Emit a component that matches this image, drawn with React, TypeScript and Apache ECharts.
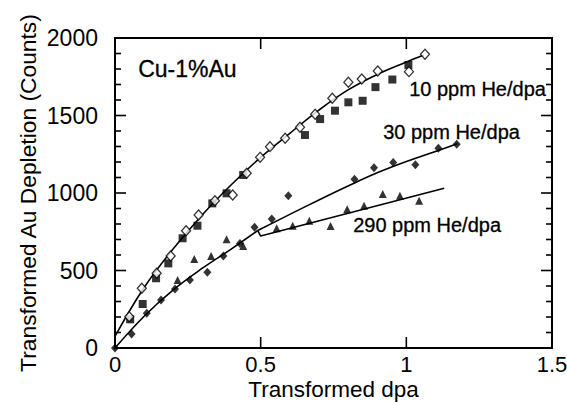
import React, { useEffect, useRef } from "react";
import * as echarts from "echarts";

// ---- data ----
const xTicks = [0, 0.5, 1, 1.5];
const yTicks = [0, 500, 1000, 1500, 2000];
// inner tick positions (major every 0.5 on x; major every 500, minor every 100 on y)
const xTickMarks = [0.5, 1.0];
const yTickMarks = [100, 200, 300, 400, 500, 600, 700, 800, 900, 1000, 1100, 1200, 1300, 1400, 1500, 1600, 1700, 1800, 1900];

// 10 ppm He/dpa, open diamonds
const open10X = [0.049, 0.092, 0.143, 0.191, 0.244, 0.287, 0.343, 0.404, 0.452, 0.498, 0.532, 0.584, 0.635, 0.687, 0.746, 0.801, 0.847, 0.902, 1.009, 1.064];
const open10Y = [202, 385, 482, 594, 757, 858, 950, 987, 1127, 1230, 1299, 1353, 1424, 1508, 1611, 1714, 1735, 1787, 1783, 1895];

// 10 ppm He/dpa, filled squares
const sq10X = [0.052, 0.095, 0.141, 0.183, 0.232, 0.283, 0.334, 0.383, 0.44, 0.652, 0.704, 0.755, 0.801, 0.85, 0.894, 0.952, 1.007];
const sq10Y = [185, 284, 450, 546, 708, 789, 933, 998, 1116, 1374, 1477, 1531, 1585, 1595, 1683, 1732, 1826];

// 30 ppm He/dpa, filled diamonds
const dia30X = [0, 0.057, 0.109, 0.158, 0.206, 0.257, 0.317, 0.372, 0.429, 0.479, 0.538, 0.595, 0.822, 0.889, 0.955, 1.031, 1.11, 1.173];
const dia30Y = [0, 90, 224, 310, 381, 439, 488, 594, 675, 779, 832, 982, 1089, 1163, 1196, 1183, 1288, 1314];

// 290 ppm He/dpa, filled triangles
const tri290X = [0.215, 0.272, 0.33, 0.383, 0.44, 0.555, 0.61, 0.667, 0.74, 0.797, 0.855, 0.919, 0.978, 1.044];
const tri290Y = [439, 574, 594, 701, 658, 772, 789, 821, 787, 895, 918, 994, 983, 950];

// fitted curves
const fit10X = [0, 0.1, 0.2, 0.3, 0.4, 0.5, 0.6, 0.7, 0.8, 0.9, 1.0, 1.06];
const fit10Y = [75, 390, 640, 860, 1055, 1230, 1385, 1535, 1665, 1765, 1845, 1890];
const fitLowX = [0, 0.1, 0.2, 0.3, 0.4, 0.49];
const fitLowY = [0, 205, 375, 515, 640, 758];
const fit30X = [0.49, 0.6, 0.7, 0.8, 0.9, 1.0, 1.1, 1.175];
const fit30Y = [758, 862, 955, 1045, 1130, 1203, 1268, 1318];
const fit290X = [0.49, 0.5, 1.13];
const fit290Y = [758, 722, 1030];

const zip = (xs: number[], ys: number[]) => xs.map((x, i) => [x, ys[i]]);

const FONT = "Liberation Sans";
const INK = "#000";
const X_MIN = xTicks[0];
const X_MAX = xTicks[xTicks.length - 1];
const Y_MIN = yTicks[0];
const Y_MAX = yTicks[yTicks.length - 1];

const mkAxisLine = () => ({ show: true, onZero: false, lineStyle: { color: INK, width: 2 } });
const noSplit = { show: false };
const tickStyle = { stroke: INK, lineWidth: 1.6 };

export default function App() {
  const ref = useRef<HTMLDivElement>(null);
  useEffect(() => {
    if (!ref.current) return;
    const chart = echarts.init(ref.current, undefined, { renderer: "svg" });
    const fitLine = (xs: number[], ys: number[], smooth: number | boolean) => ({
      type: "line",
      data: zip(xs, ys),
      showSymbol: false,
      smooth,
      lineStyle: { color: INK, width: 1.6 },
      z: 2,
      silent: true,
    });
    const txt = (text: string, left: number, top: number, size: number) => ({
      type: "text",
      left,
      top,
      style: { text, font: `${size}px "${FONT}"`, fill: INK, stroke: INK, lineWidth: 0.3 },
    });
    chart.setOption({
      animation: false,
      backgroundColor: "#fff",
      grid: { left: 115, right: 15, top: 38, bottom: 54, outerBoundsMode: "none" },
      xAxis: [
        {
          type: "value",
          min: X_MIN,
          max: X_MAX,
          interval: 0.5,
          position: "bottom",
          axisLine: mkAxisLine(),
          axisTick: { show: false },
          splitLine: noSplit,
          axisLabel: { color: INK, fontSize: 22, lineHeight: 16, fontFamily: FONT, margin: 8 },
          name: "Transformed dpa",
          nameLocation: "middle",
          nameGap: 31,
          nameMoveOverlap: false,
          nameTextStyle: { color: INK, fontSize: 22.5, lineHeight: 20, fontFamily: FONT },
        },
        {
          type: "value",
          min: X_MIN,
          max: X_MAX,
          interval: 0.5,
          position: "top",
          axisLine: mkAxisLine(),
          axisTick: { show: false },
          splitLine: noSplit,
          axisLabel: { show: false },
        },
      ],
      yAxis: [
        {
          type: "value",
          min: Y_MIN,
          max: Y_MAX,
          interval: 500,
          position: "left",
          axisLine: mkAxisLine(),
          axisTick: { show: false },
          splitLine: noSplit,
          minorSplitLine: noSplit,
          axisLabel: {
            color: INK,
            fontSize: 23,
            fontFamily: FONT,
            margin: 17,
            formatter: (v: number) => String(v),
          },
          name: "Transformed Au Depletion (Counts)",
          nameLocation: "middle",
          nameGap: 76,
          nameMoveOverlap: false,
          nameTextStyle: { color: INK, fontSize: 22.8, lineHeight: 22, fontFamily: FONT },
        },
        {
          type: "value",
          min: Y_MIN,
          max: Y_MAX,
          interval: 500,
          position: "right",
          axisLine: mkAxisLine(),
          axisTick: { show: false },
          splitLine: noSplit,
          minorSplitLine: noSplit,
          axisLabel: { show: false },
        },
      ],
      series: [
        fitLine(fit10X, fit10Y, 0.4),
        fitLine(fitLowX, fitLowY, 0.4),
        fitLine(fit30X, fit30Y, 0.4),
        fitLine(fit290X, fit290Y, false),
        {
          type: "scatter",
          data: zip(open10X, open10Y),
          symbol: "diamond",
          symbolSize: [9, 10],
          itemStyle: { color: "#fff", borderColor: INK, borderWidth: 1.3 },
          z: 4,
        },
        {
          type: "scatter",
          data: zip(sq10X, sq10Y),
          symbol: "rect",
          symbolSize: 8,
          itemStyle: { color: INK },
          z: 3,
        },
        {
          type: "scatter",
          data: zip(dia30X, dia30Y),
          symbol: "diamond",
          symbolSize: [8, 9],
          itemStyle: { color: INK },
          z: 3,
        },
        {
          type: "scatter",
          data: zip(tri290X, tri290Y),
          symbol: "triangle",
          symbolSize: [8, 8],
          itemStyle: { color: INK },
          z: 3,
        },
        // inward ticks on bottom and top frame edges
        {
          type: "custom",
          silent: true,
          clip: false,
          z: 5,
          data: xTickMarks.map((v) => [v, Y_MIN]),
          encode: { x: 0, y: 1 },
          renderItem: (_p: any, api: any) => {
            const v = api.value(0);
            const b = api.coord([v, Y_MIN]);
            const t = api.coord([v, Y_MAX]);
            return {
              type: "group",
              children: [
                { type: "line", shape: { x1: b[0], y1: b[1], x2: b[0], y2: b[1] - 11 }, style: tickStyle },
                { type: "line", shape: { x1: t[0], y1: t[1], x2: t[0], y2: t[1] + 11 }, style: tickStyle },
              ],
            };
          },
        },
        // inward ticks on left and right frame edges
        {
          type: "custom",
          silent: true,
          clip: false,
          z: 5,
          data: yTickMarks.map((v) => [X_MIN, v]),
          encode: { x: 0, y: 1 },
          renderItem: (_p: any, api: any) => {
            const v = api.value(1);
            const len = v % 500 === 0 ? 11 : 6;
            const l = api.coord([X_MIN, v]);
            const r = api.coord([X_MAX, v]);
            return {
              type: "group",
              children: [
                { type: "line", shape: { x1: l[0], y1: l[1], x2: l[0] + len, y2: l[1] }, style: tickStyle },
                { type: "line", shape: { x1: r[0], y1: r[1], x2: r[0] - len, y2: r[1] }, style: tickStyle },
              ],
            };
          },
        },
      ],
      graphic: [
        txt("Cu-1%Au", 138, 57, 23),
        txt("10 ppm He/dpa", 409, 79, 20),
        txt("30 ppm He/dpa", 383, 122, 20),
        txt("290 ppm He/dpa", 353, 215, 20),
      ],
    });
    return () => chart.dispose();
  }, []);
  return <div ref={ref} style={{ width: 567, height: 402, position: "absolute", left: 0, top: 0 }} />;
}
